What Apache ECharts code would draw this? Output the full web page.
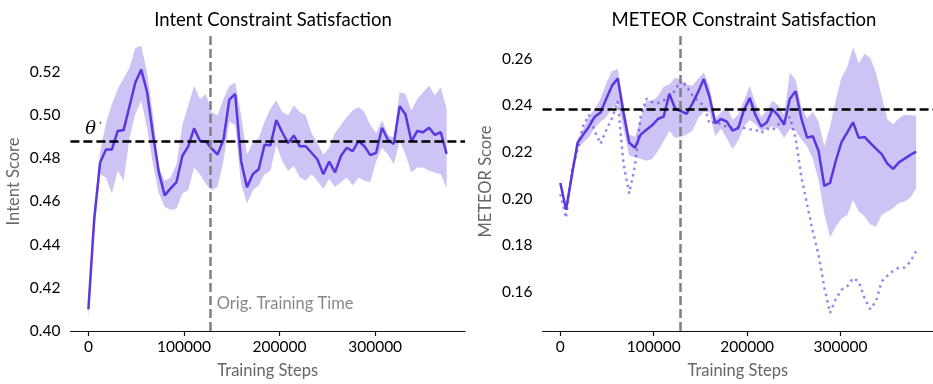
<!DOCTYPE html>
<html>
<head>
<meta charset="utf-8">
<script src="https://cdn.jsdelivr.net/npm/echarts@6/dist/echarts.min.js"></script>
<style>
  html, body { margin: 0; padding: 0; background: #fff; }
  #chart { width: 933px; height: 384px; }
</style>
</head>
<body>
<div id="chart"></div>
<script>
// Logged training steps (one evaluation every 6144 environment steps)
const steps = [
  0, 6144, 12288, 18432, 24576, 30720, 36864, 43008, 49152, 55296,
  61440, 67584, 73728, 79872, 86016, 92160, 98304, 104448, 110592, 116736,
  122880, 129024, 135168, 141312, 147456, 153600, 159744, 165888, 172032, 178176,
  184320, 190464, 196608, 202752, 208896, 215040, 221184, 227328, 233472, 239616,
  245760, 251904, 258048, 264192, 270336, 276480, 282624, 288768, 294912, 301056,
  307200, 313344, 319488, 325632, 331776, 337920, 344064, 350208, 356352, 362496,
  368640, 374784, 380928
];

// Intent constraint run: mean and spread across seeds
const intentMean = [
  0.410, 0.452, 0.478, 0.484, 0.484, 0.4926, 0.493, 0.504, 0.515, 0.521,
  0.5105, 0.491, 0.4734, 0.4628, 0.466, 0.4689, 0.481, 0.4855, 0.4938, 0.488,
  0.4878, 0.4844, 0.4817, 0.4885, 0.5071, 0.5097, 0.4787, 0.4666, 0.4726, 0.4749,
  0.4862, 0.486, 0.4976, 0.492, 0.487, 0.4905, 0.4855, 0.4855, 0.4825, 0.4794,
  0.4726, 0.4784, 0.4734, 0.481, 0.4848, 0.4832, 0.488, 0.4855, 0.4814, 0.4825,
  0.4941, 0.4885, 0.4866, 0.5041, 0.5002, 0.4878, 0.4926, 0.492, 0.4941, 0.4908,
  0.492, 0.482
];
const intentUpper = [
  0.4115, 0.456, 0.483, 0.496, 0.505, 0.512, 0.517, 0.522, 0.531, 0.532,
  0.5196, 0.500, 0.4757, 0.4696, 0.4711, 0.4772, 0.4953, 0.5044, 0.5135, 0.5074,
  0.5097, 0.5014, 0.4999, 0.5074, 0.5135, 0.515, 0.4999, 0.4817, 0.487, 0.4893,
  0.4969, 0.5029, 0.5067, 0.5014, 0.4999, 0.5044, 0.5014, 0.4999, 0.4916, 0.487,
  0.4817, 0.4848, 0.4916, 0.4953, 0.4991, 0.5021, 0.5037, 0.5014, 0.4953, 0.4916,
  0.4976, 0.4908, 0.4893, 0.5105, 0.5097, 0.5021, 0.5074, 0.5105, 0.5135, 0.509,
  0.5128, 0.503
];
const intentLower = [
  0.4055, 0.446, 0.4726, 0.4711, 0.4636, 0.4742, 0.4696, 0.4893, 0.5006, 0.5067,
  0.4938, 0.4772, 0.4636, 0.4575, 0.456, 0.4567, 0.4636, 0.4651, 0.4757, 0.4726,
  0.4681, 0.4651, 0.4666, 0.4787, 0.4969, 0.4953, 0.4681, 0.459, 0.4651, 0.4674,
  0.4726, 0.4742, 0.4862, 0.4787, 0.4742, 0.4764, 0.4711, 0.4696, 0.4726, 0.4696,
  0.4658, 0.4704, 0.4666, 0.4689, 0.4711, 0.4674, 0.4711, 0.4696, 0.4689, 0.4787,
  0.4848, 0.4817, 0.4772, 0.4878, 0.4817, 0.4734, 0.4757, 0.4757, 0.4742, 0.4734,
  0.4726, 0.466
];

// METEOR constraint run: mean, spread, and the single worst seed (dotted)
const meteorMean = [
  0.2068, 0.1953, 0.210, 0.224, 0.2275, 0.231, 0.2352, 0.237, 0.2429, 0.2485,
  0.2516, 0.237, 0.224, 0.2219, 0.2275, 0.2296, 0.2315, 0.2342, 0.2352, 0.245,
  0.2387, 0.2376, 0.2364, 0.2408, 0.2457, 0.2513, 0.2436, 0.2324, 0.2342, 0.2331,
  0.2292, 0.2303, 0.238, 0.2432, 0.2359, 0.231, 0.2328, 0.2383, 0.2356, 0.2317,
  0.2429, 0.2461, 0.2345, 0.2262, 0.2268, 0.2205, 0.2055, 0.2068, 0.2163, 0.2243,
  0.2285, 0.2328, 0.2261, 0.2265, 0.224, 0.2215, 0.2191, 0.215, 0.2128, 0.2156,
  0.2172, 0.2188, 0.2202
];
const meteorUpper = [
  0.2075, 0.1962, 0.212, 0.2255, 0.230, 0.2355, 0.2385, 0.2429, 0.2495, 0.2548,
  0.2555, 0.241, 0.2275, 0.2265, 0.2345, 0.2422, 0.242, 0.244, 0.248, 0.249,
  0.252, 0.251, 0.249, 0.2485, 0.2515, 0.2541, 0.248, 0.2345, 0.237, 0.2394,
  0.234, 0.236, 0.242, 0.2485, 0.241, 0.2352, 0.238, 0.242, 0.240, 0.236,
  0.2541, 0.251, 0.2395, 0.2345, 0.2373, 0.233, 0.2225, 0.231, 0.2425, 0.252,
  0.2565, 0.2650, 0.2580, 0.2622, 0.2605, 0.2540, 0.2440, 0.234, 0.232, 0.2345,
  0.236, 0.2358, 0.2356
];
const meteorLower = [
  0.2060, 0.1945, 0.208, 0.2215, 0.224, 0.2265, 0.2305, 0.233, 0.235, 0.239,
  0.241, 0.230, 0.2185, 0.2178, 0.2172, 0.2163, 0.217, 0.2205, 0.2247, 0.229,
  0.226, 0.2265, 0.2275, 0.229, 0.2345, 0.2373, 0.237, 0.2268, 0.230, 0.2261,
  0.2212, 0.225, 0.231, 0.2338, 0.232, 0.229, 0.230, 0.231, 0.230, 0.2261,
  0.230, 0.229, 0.2255, 0.2225, 0.217, 0.208, 0.1935, 0.1835, 0.188, 0.1915,
  0.193, 0.1995, 0.1945, 0.1925, 0.189, 0.188, 0.193, 0.1945, 0.196, 0.1982,
  0.1988, 0.2005, 0.2044
];
const meteorWorst = [
  0.202, 0.1918, 0.212, 0.221, 0.2315, 0.236, 0.229, 0.2235, 0.2295, 0.2345,
  0.2418, 0.215, 0.2023, 0.214, 0.2355, 0.2429, 0.2415, 0.241, 0.2422, 0.2436,
  0.2465, 0.251, 0.2482, 0.2445, 0.2418, 0.240, 0.2322, 0.2331, 0.232, 0.2308,
  0.2303, 0.2306, 0.2303, 0.2298, 0.2296, 0.2282, 0.230, 0.2295, 0.2318, 0.2335,
  0.235, 0.226, 0.2095, 0.1975, 0.186, 0.176, 0.162, 0.151, 0.157, 0.161,
  0.1625, 0.166, 0.1645, 0.1575, 0.1526, 0.156, 0.1645, 0.167, 0.169, 0.1705,
  0.1705, 0.173, 0.1775
];

// Reference levels
const origTrainingStep = 128000;
const intentThreshold = 0.488;
const meteorThreshold = 0.2384;

// Tick labels
const stepTicks = [0, 100000, 200000, 300000];
const intentTicks = [0.40, 0.42, 0.44, 0.46, 0.48, 0.50, 0.52];
const meteorTicks = [0.16, 0.18, 0.20, 0.22, 0.24, 0.26];

const LINE = '#5a37de';
const BAND = 'rgba(90,55,222,0.3)';
const WORST = 'rgba(90,55,222,0.6)';
const FONT = 'Lato';

const zip = (xs, ys) => ys.map((y, i) => [xs[i], y]);

function bandSeries(axis, xs, lo, hi) {
  return {
    type: 'custom',
    xAxisIndex: axis, yAxisIndex: axis,
    z: 1, silent: true,
    data: [[xs[0], lo[0]]],
    renderItem(params, api) {
      const top = hi.map((v, i) => api.coord([xs[i], v]));
      const bot = lo.map((v, i) => api.coord([xs[i], v])).reverse();
      return { type: 'polygon', shape: { points: top.concat(bot) }, style: { fill: BAND } };
    }
  };
}

function xAxisFor(grid, min, max) {
  return {
    gridIndex: grid, type: 'value', min, max,
    axisLine: { show: true, onZero: false, lineStyle: { color: '#111', width: 1.2 } },
    axisTick: { show: true, customValues: stepTicks, length: 5, lineStyle: { color: '#111', width: 1.2 } },
    axisLabel: { customValues: stepTicks, formatter: v => String(v), color: '#000',
                 fontSize: 15.5, fontFamily: FONT, margin: 8 },
    splitLine: { show: false },
    name: 'Training Steps', nameLocation: 'middle', nameGap: 31,
    nameTextStyle: { color: '#666', fontSize: 16.5, fontFamily: FONT }
  };
}

function yAxisFor(grid, min, max, ticks, name) {
  return {
    gridIndex: grid, type: 'value', min, max,
    axisLine: { show: false }, axisTick: { show: false },
    axisLabel: { customValues: ticks, formatter: v => v.toFixed(2), color: '#000',
                 fontSize: 15.5, fontFamily: FONT, margin: 10 },
    splitLine: { show: false },
    name, nameLocation: 'middle', nameGap: 48, nameRotate: 90,
    nameTextStyle: { color: '#666', fontSize: 16.5, fontFamily: FONT }
  };
}

function refLines(threshold) {
  return {
    symbol: 'none', silent: true, precision: 6, label: { show: false },
    data: [
      { yAxis: threshold, lineStyle: { color: '#000', width: 2.5, type: [9, 4] } },
      { xAxis: origTrainingStep, lineStyle: { color: '#808080', width: 2.5, type: [9, 4] } }
    ]
  };
}

const chart = echarts.init(document.getElementById('chart'), null, { renderer: 'canvas' });
chart.setOption({
  animation: false,
  backgroundColor: '#fff',
  title: [
    { text: 'Intent Constraint Satisfaction', left: 268, top: 6, textAlign: 'center',
      textStyle: { fontSize: 18.5, fontWeight: 'normal', color: '#000', fontFamily: FONT } },
    { text: 'METEOR Constraint Satisfaction', left: 739, top: 6, textAlign: 'center',
      textStyle: { fontSize: 18.5, fontWeight: 'normal', color: '#000', fontFamily: FONT } }
  ],
  grid: [
    { left: 70.4, top: 32, width: 394.6, height: 305 },
    { left: 542.6, top: 32, width: 397.5, height: 305 }
  ],
  xAxis: [xAxisFor(0, -18800, 394000), xAxisFor(1, -19000, 399000)],
  yAxis: [
    yAxisFor(0, 0.40, 0.5384, intentTicks, 'Intent Score'),
    yAxisFor(1, 0.1433, 0.2715, meteorTicks, 'METEOR Score')
  ],
  series: [
    bandSeries(0, steps, intentLower, intentUpper),
    {
      type: 'line', xAxisIndex: 0, yAxisIndex: 0, z: 3,
      data: zip(steps, intentMean), symbol: 'none', showSymbol: false,
      lineStyle: { color: LINE, width: 2.5 },
      markLine: refLines(intentThreshold),
      markPoint: {
        silent: true, symbol: 'circle', symbolSize: 0,
        data: [
          { coord: [origTrainingStep, 0.4125],
            label: { show: true, position: 'right', distance: 6, formatter: 'Orig. Training Time',
                     color: '#888', fontSize: 16.5, fontFamily: FONT } },
          { coord: [5800, 0.4935],
            label: { show: true, position: 'inside', formatter: '{t|θ}{s|⋆}',
                     rich: {
                       t: { fontSize: 18, fontStyle: 'italic', fontFamily: 'DejaVu Serif', color: '#000' },
                       s: { fontSize: 7, fontFamily: 'DejaVu Sans', color: '#000', verticalAlign: 'top', padding: [0, 0, 8, 2] }
                     } } }
        ]
      }
    },
    bandSeries(1, steps, meteorLower, meteorUpper),
    {
      type: 'line', xAxisIndex: 1, yAxisIndex: 1, z: 2,
      data: zip(steps, meteorWorst), symbol: 'none', showSymbol: false,
      lineStyle: { color: WORST, width: 2.5, type: [2.5, 4] }
    },
    {
      type: 'line', xAxisIndex: 1, yAxisIndex: 1, z: 3,
      data: zip(steps, meteorMean), symbol: 'none', showSymbol: false,
      lineStyle: { color: LINE, width: 2.5 },
      markLine: refLines(meteorThreshold)
    }
  ]
});
</script>
</body>
</html>
